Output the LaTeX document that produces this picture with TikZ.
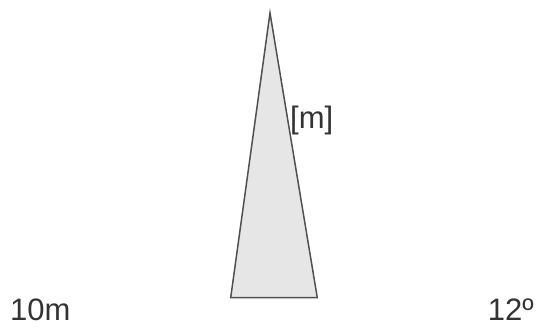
\documentclass[tikz,border=0pt]{standalone}
\usepackage{fontspec}
\setmainfont{Liberation Sans}
\definecolor{txt}{HTML}{333333}
\definecolor{edge}{HTML}{505050}
\definecolor{fillg}{HTML}{E6E6E7}
\begin{document}
\begin{tikzpicture}[x=1pt,y=1pt,
  lbl/.style={inner sep=0pt,text=txt,font=\fontsize{31}{36}\selectfont},
  cone/.style={draw=edge,fill=fillg,line width=1.5pt,line join=miter}]
\useasboundingbox (0,0) rectangle (539,329);
\coordinate (apex) at (270,316);
\coordinate (bl) at (230.7,31.3);
\coordinate (br) at (317.3,31.3);
\draw[cone] (apex) -- (br) -- (bl) -- cycle;
\node[lbl,anchor=base west] (m) at (290,200) {[m]};
\node[lbl,anchor=base west] (len) at (10,8) {10m};
\node[lbl,anchor=base east] (ang) at (534,8) {12º};
\end{tikzpicture}
\end{document}
